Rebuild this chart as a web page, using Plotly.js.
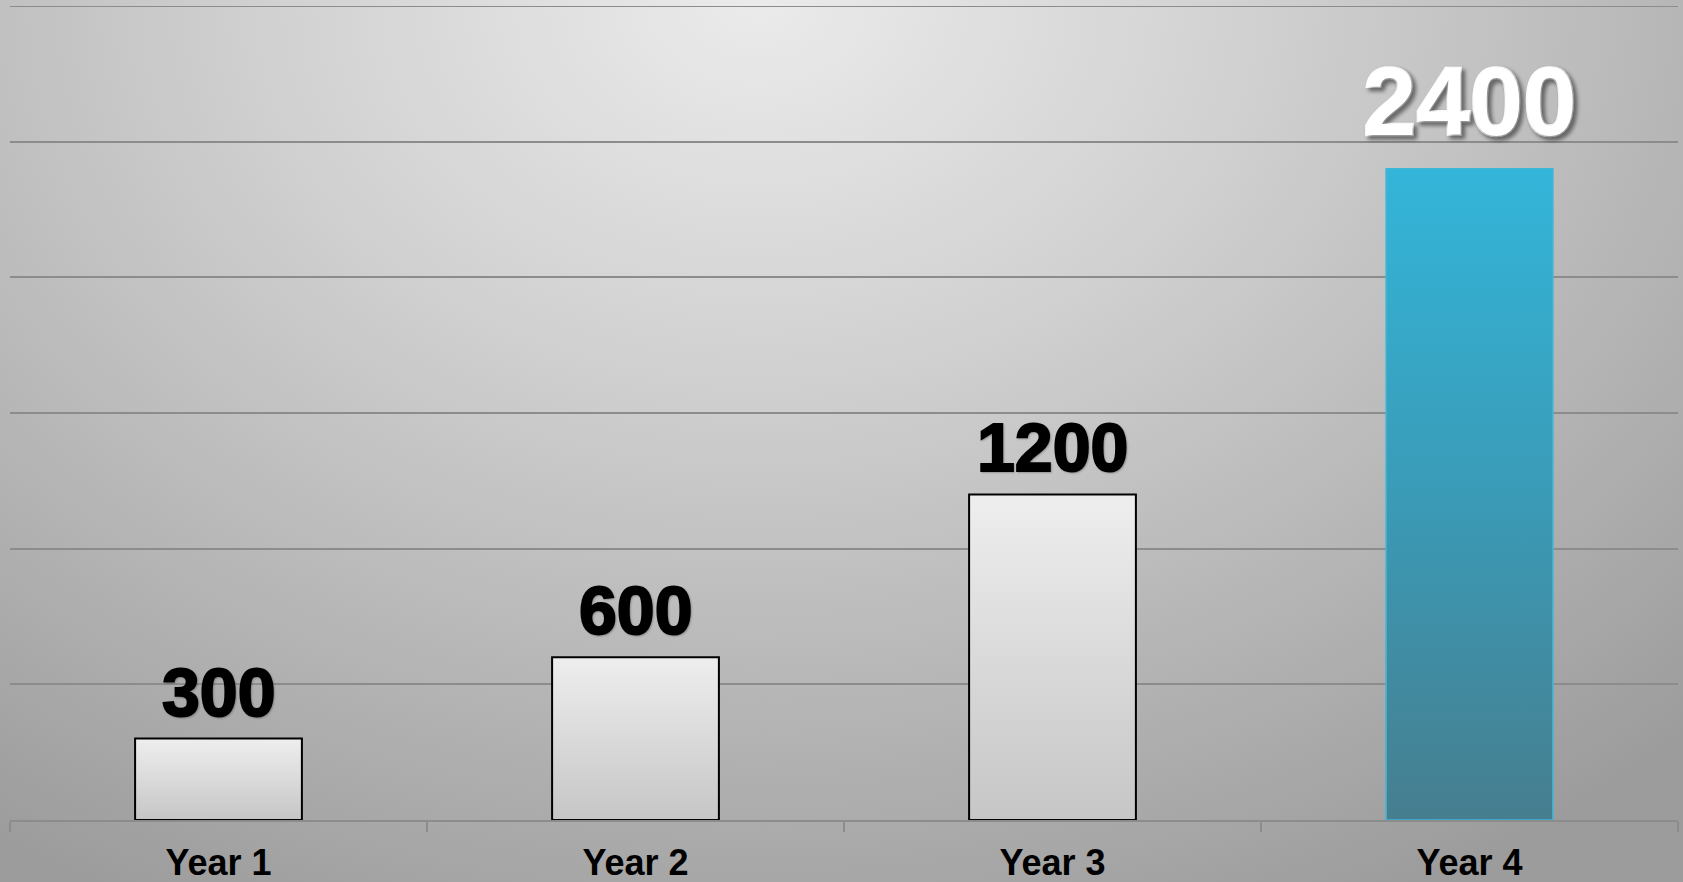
<!DOCTYPE html>
<html>
<head>
<meta charset="utf-8">
<script src="https://cdn.plot.ly/plotly-3.0.1.min.js"></script>
<style>
  html, body { margin:0; padding:0; width:1683px; height:882px; overflow:hidden; }
  body { background: radial-gradient(ellipse 80% 115% at 45% 0%, #ebebeb 0%, #d2d2d2 35%, #b5b5b5 70%, #9c9c9c 100%); }
  #chart { width:1683px; height:882px; }
  .annotation-text { paint-order: stroke fill; }
</style>
</head>
<body>
<div id="chart"></div>
<script>
const categories = ["Year 1", "Year 2", "Year 3", "Year 4"];
const values = [300, 600, 1200, 2400];
const labelColors = ["#000000", "#000000", "#000000", "#ffffff"];
const labelSizes = [68, 68, 68, 96];
const yTicks = [0, 500, 1000, 1500, 2000, 2500, 3000];
const yMax = 3000;

const trace = {
  type: "bar",
  x: categories,
  y: values,
  marker: {
    color: ["#dedede", "#dedede", "#dedede", "#3a9ab8"],
    line: { color: ["#000000", "#000000", "#000000", "#3fb6d6"], width: [2, 2, 2, 1.5] }
  },
  hoverinfo: "none"
};

const annotations = categories.map((c, i) => ({
  x: c, y: values[i], xref: "x", yref: "y",
  text: String(values[i]),
  showarrow: false,
  yanchor: "bottom",
  yshift: i === 3 ? 12 : 7,
  font: {
    family: "Liberation Sans, Arial, sans-serif",
    size: labelSizes[i],
    color: labelColors[i],
    weight: 700,
    shadow: i === 3 ? "3px 3px 4px rgba(0,0,0,0.45)" : "1px 1px 2px rgba(0,0,0,0.2)"
  }
}));

const layout = {
  width: 1683, height: 882,
  margin: { l: 10, r: 5, t: 6, b: 62, autoexpand: false },
  paper_bgcolor: "rgba(0,0,0,0)",
  plot_bgcolor: "rgba(0,0,0,0)",
  bargap: 0.6,
  showlegend: false,
  xaxis: {
    type: "category",
    showline: true, linecolor: "#8c8c8c", linewidth: 2,
    ticks: "outside", tickson: "boundaries", ticklen: 10, tickwidth: 2, tickcolor: "#8c8c8c",
    ticklabelstandoff: 10,
    showgrid: false,
    tickfont: { family: "Liberation Sans, Arial, sans-serif", size: 36, color: "#000000", weight: 700 },
    fixedrange: true
  },
  yaxis: {
    range: [0, yMax],
    tickvals: yTicks,
    showticklabels: false,
    showgrid: true, gridcolor: "#8c8c8c", gridwidth: 2,
    zeroline: false,
    fixedrange: true
  },
  shapes: [{
    type: "line", xref: "paper", yref: "y", x0: 0, x1: 1, y0: yMax, y1: yMax,
    line: { color: "#8c8c8c", width: 2 }, layer: "below"
  }],
  annotations: annotations
};

Plotly.newPlot("chart", [trace], layout, { staticPlot: true, displayModeBar: false }).then(gd => {
  const svg = gd.querySelector("svg.main-svg");
  const ns = "http://www.w3.org/2000/svg";
  const defs = document.createElementNS(ns, "defs");
  defs.innerHTML =
    '<linearGradient id="gWhite" x1="0" y1="0" x2="0" y2="1">' +
    '<stop offset="0" stop-color="#eeeeee"/><stop offset="1" stop-color="#c6c6c6"/></linearGradient>' +
    '<linearGradient id="gBlue" x1="0" y1="0" x2="0" y2="1">' +
    '<stop offset="0" stop-color="#33b5d9"/><stop offset="0.5" stop-color="#3a9bb7"/><stop offset="1" stop-color="#467e8f"/></linearGradient>';
  svg.insertBefore(defs, svg.firstChild);
  const paths = gd.querySelectorAll(".trace.bars .point path");
  paths.forEach((p, i) => {
    p.style.fill = i === 3 ? "url(#gBlue)" : "url(#gWhite)";
  });
  gd.querySelectorAll(".annotation-text").forEach((t, i) => {
    t.style.stroke = labelColors[i];
    t.style.strokeWidth = i === 3 ? "2.5px" : "2px";
  });
});
</script>
</body>
</html>
